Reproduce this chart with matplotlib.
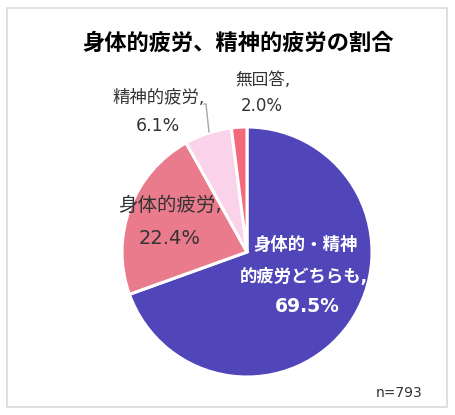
import matplotlib.pyplot as plt
from matplotlib.patches import Rectangle

# Latin glyphs from DejaVu (wide, Meiryo-like), kana/kanji from Noto CJK
plt.rcParams['font.family'] = ['DejaVu Sans', 'Noto Sans CJK JP']

W, H = 456, 415

categories = ['身体的・精神\n的疲労どちらも,', '身体的疲労,', '精神的疲労,', '無回答,']
shares = [69.5, 22.4, 6.1, 2.0]
colors = ['#5145BA', '#E97B8C', '#FAD2E9', '#F36A7B']
n_total = 793


def fx(px):
    return px / W


def fy(py):
    return 1 - py / H


def put(x, y, s, **kw):
    fig.text(fx(x), fy(y), s, ha='center', va='center', **kw)


fig = plt.figure(figsize=(W / 100, H / 100), dpi=100)

# outer frame
fig.patches.append(Rectangle((fx(7), fy(407)), fx(447) - fx(7), fy(8) - fy(407),
                             transform=fig.transFigure, fill=False,
                             edgecolor='#D9D9D9', linewidth=1.2))

cx, cy, r = 247, 252, 125
ax = fig.add_axes([fx(cx - r), fy(cy + r), 2 * r / W, 2 * r / H])
ax.pie(shares, colors=colors, startangle=90, counterclock=False,
       wedgeprops=dict(edgecolor='white', linewidth=2.2))
ax.set_xlim(-1, 1)
ax.set_ylim(-1, 1)
ax.axis('off')

put(238, 43, '身体的疲労、精神的疲労の割合', fontsize=16, fontweight='bold', color='black')

dark = '#333333'
# inner label for the big slice
line1, line2 = categories[0].split('\n')
put(306, 245, line1, fontsize=12.5, fontweight='bold', color='white')
put(304, 277, line2, fontsize=12.5, fontweight='bold', color='white')
put(307, 307, f'{shares[0]:.1f}%', fontsize=13.5, fontweight='bold', color='white')

put(170, 205, categories[1], fontsize=14, color=dark)
put(170, 238, f'{shares[1]:.1f}%', fontsize=14, color=dark)

put(159, 98, categories[2], fontsize=12.5, color=dark)
put(158, 126, f'{shares[2]:.1f}%', fontsize=12.5, color=dark)

put(263, 80, categories[3], fontsize=12, color=dark)
put(262, 106, f'{shares[3]:.1f}%', fontsize=12, color=dark)

# leader line for 精神的疲労
fig.add_artist(plt.Line2D([fx(204), fx(206), fx(209)], [fy(104), fy(104), fy(132)],
                          color='#A6A6A6', linewidth=1))

fig.text(fx(423), fy(393), f'n={n_total}', ha='right', va='center',
         fontsize=10, color=dark)

fig.savefig('out.png', dpi=100)
